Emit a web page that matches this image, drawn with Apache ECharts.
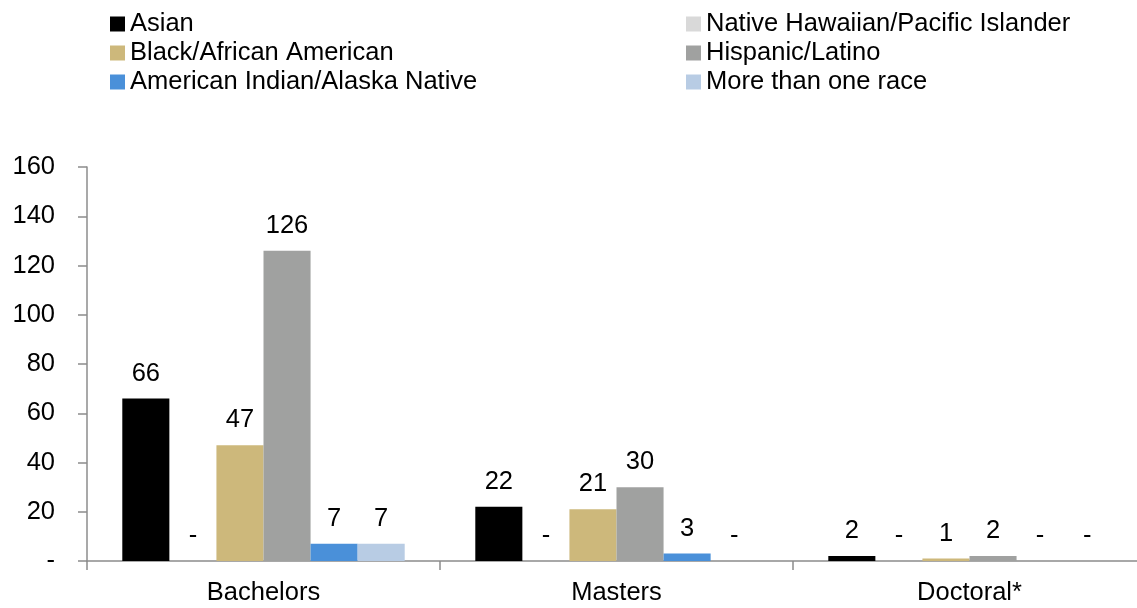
<!DOCTYPE html>
<html>
<head>
<meta charset="utf-8">
<style>
html,body{margin:0;padding:0;background:#fff;}
#chart{width:1137px;height:608px;}
</style>
<script src="https://cdn.jsdelivr.net/npm/echarts@6/dist/echarts.min.js"></script>
</head>
<body>
<div id="chart"></div>
<script>
const categories = ['Bachelors', 'Masters', 'Doctoral*'];
const seriesNames = ['Asian', 'Native Hawaiian/Pacific Islander', 'Black/African American', 'Hispanic/Latino', 'American Indian/Alaska Native', 'More than one race'];
const asian = [66, 22, 2];
const nativeHawaiian = [0, 0, 0];
const black = [47, 21, 1];
const hispanic = [126, 30, 2];
const americanIndian = [7, 3, 0];
const moreThanOne = [7, 0, 0];
const yTicks = [0, 20, 40, 60, 80, 100, 120, 140, 160];

const seriesValues = [asian, nativeHawaiian, black, hispanic, americanIndian, moreThanOne];
const colors = ['#000000', '#d9d9d9', '#cdb87b', '#a0a1a0', '#4a90d9', '#b8cce4'];
const font = '"Liberation Sans", Arial, Helvetica, sans-serif';
const FS = 25.5;

const chart = echarts.init(document.getElementById('chart'));
const legendText = {fontSize: FS, color: '#000', fontFamily: font, lineHeight: 25};
chart.setOption({
  animation: false,
  color: colors,
  legend: [
    {orient: 'vertical', left: 105, top: 6, itemWidth: 15, itemHeight: 15, itemGap: 3, icon: 'rect',
     data: [seriesNames[0], seriesNames[2], seriesNames[4]], textStyle: legendText, selectedMode: false},
    {orient: 'vertical', left: 681, top: 6, itemWidth: 15, itemHeight: 15, itemGap: 3, icon: 'rect',
     data: [seriesNames[1], seriesNames[3], seriesNames[5]], textStyle: legendText, selectedMode: false}
  ],
  grid: {left: 87, top: 167, bottom: 47, width: 1059, containLabel: false, outerBoundsMode: 'none'},
  xAxis: {
    type: 'category', data: categories, boundaryGap: true,
    axisLine: {lineStyle: {color: '#8c8c8c', width: 1.5}},
    axisTick: {show: true, length: 9, lineStyle: {color: '#8c8c8c', width: 1.5}},
    axisLabel: {fontSize: FS, color: '#000', fontFamily: font, margin: 19}
  },
  yAxis: {
    type: 'value', min: yTicks[0], max: yTicks[yTicks.length - 1], interval: 20,
    axisLine: {show: true, lineStyle: {color: '#8c8c8c', width: 1.5}},
    axisTick: {show: true, length: 9, lineStyle: {color: '#8c8c8c', width: 1.5}},
    splitLine: {show: false},
    axisLabel: {fontSize: FS, color: '#000', fontFamily: font, margin: 32,
      formatter: v => v === 0 ? '-' : String(v)}
  },
  series: seriesNames.map((name, i) => ({
    name, type: 'bar', data: seriesValues[i],
    barGap: '0%', barCategoryGap: '20%',
    itemStyle: {color: colors[i]},
    label: {show: true, position: 'top', distance: 12, fontSize: FS, color: '#000', fontFamily: font,
      formatter: p => p.value === 0 ? '-' : String(p.value)}
  }))
});
</script>
</body>
</html>
